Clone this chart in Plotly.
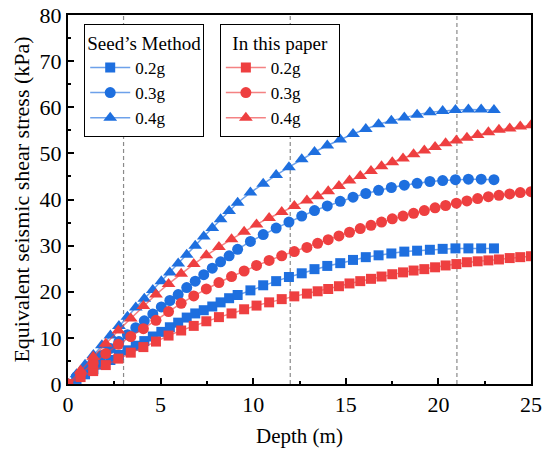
import plotly.graph_objects as go

# ---- data ----
seed_depth = [0, 0.46, 0.92, 1.37, 1.83, 2.29, 2.75, 3.21, 3.66, 4.12, 4.58, 5.04, 5.50, 5.95,
              6.41, 6.87, 7.33, 7.79, 8.24, 8.70, 9.16, 9.85, 10.54, 11.24, 11.93, 12.62, 13.31,
              14.00, 14.70, 15.39, 16.08, 16.77, 17.46, 18.16, 18.85, 19.54, 20.23, 20.92,
              21.62, 22.31, 23.00]
seed_02 = [0, 1.1, 2.1, 3.2, 4.2, 5.2, 6.3, 7.3, 8.3, 9.3, 10.3, 11.3, 12.3, 13.3,
           14.4, 15.3, 16.0, 16.8, 17.7, 18.6, 19.3, 20.3, 21.4, 22.3, 23.2, 24.0, 24.9,
           25.6, 26.2, 26.9, 27.5, 27.9, 28.3, 28.7, 28.9, 29.1, 29.3, 29.4,
           29.4, 29.4, 29.4]
seed_03 = [0, 1.6, 3.2, 4.7, 6.2, 7.7, 9.2, 10.7, 12.2, 13.7, 15.2, 16.7, 18.1, 19.4,
           20.9, 22.3, 23.7, 25.1, 26.5, 27.8, 29.2, 30.9, 32.4, 33.8, 35.1, 36.4, 37.6,
           38.6, 39.6, 40.5, 41.3, 42.0, 42.6, 43.1, 43.5, 43.9, 44.1, 44.3,
           44.4, 44.4, 44.3]
seed_04 = [0, 2.1, 4.2, 6.3, 8.4, 10.5, 12.6, 14.6, 16.6, 18.5, 20.4, 22.3, 24.2, 26.1,
           28.0, 30.0, 32.0, 33.8, 35.7, 37.5, 39.3, 41.5, 43.4, 45.3, 47.0, 48.7, 50.3,
           51.7, 53.0, 54.2, 55.3, 56.3, 57.1, 57.8, 58.4, 58.9, 59.2, 59.4,
           59.5, 59.5, 59.4]

paper_depth = [0, 0.68, 1.36, 2.04, 2.72, 3.39, 4.07, 4.75, 5.43, 6.11, 6.79, 7.47, 8.15, 8.83,
               9.51, 10.18, 10.86, 11.54, 12.22, 12.90, 13.48, 14.05, 14.63, 15.20, 15.78,
               16.36, 16.93, 17.51, 18.09, 18.66, 19.24, 19.82, 20.39, 20.97, 21.54, 22.12,
               22.70, 23.27, 23.85, 24.42, 25.00]
paper_02 = [0, 1.5, 2.8, 4.1, 5.5, 6.8, 8.0, 9.2, 10.5, 11.6, 12.6, 13.6, 14.5, 15.3,
            16.2, 17.0, 17.7, 18.4, 19.0, 19.6, 20.1, 20.6, 21.2, 21.8, 22.3,
            22.8, 23.3, 23.8, 24.2, 24.6, 24.9, 25.3, 25.7, 26.0, 26.4, 26.6,
            26.8, 27.0, 27.3, 27.5, 27.7]
paper_03 = [0, 2.2, 4.5, 6.6, 8.6, 10.3, 12.0, 13.8, 15.7, 17.5, 19.1, 20.6, 22.0, 23.3,
            24.5, 25.7, 26.8, 27.8, 28.7, 29.6, 30.5, 31.3, 32.1, 32.9, 33.7,
            34.4, 35.1, 35.8, 36.4, 37.0, 37.6, 38.2, 38.7, 39.2, 39.7, 40.2,
            40.6, 40.9, 41.2, 41.5, 41.7]
paper_04 = [0, 2.9, 5.9, 8.7, 11.6, 14.2, 16.9, 19.4, 21.7, 23.9, 26.0, 27.9, 29.7, 31.4,
            33.0, 34.6, 36.0, 37.3, 38.6, 39.8, 40.7, 41.8, 42.9, 44.1, 45.1,
            46.2, 47.2, 48.1, 48.9, 49.8, 50.6, 51.4, 52.2, 52.8, 53.4, 54.0,
            54.6, 55.1, 55.4, 55.8, 56.1]

labels = ["0.2g", "0.3g", "0.4g"]
ref_lines = [3, 12, 21]
x_ticks = [0, 5, 10, 15, 20, 25]
y_ticks = [0, 10, 20, 30, 40, 50, 60, 70, 80]

# ---- style ----
BLUE = "#1E6FDF"
BLUE_LINE = "rgba(30,111,223,0.65)"
RED = "#EE3F40"
RED_LINE = "rgba(238,63,64,0.65)"
FONT = "Liberation Serif"
symbols = ["square", "circle", "triangle-up"]
sizes = [10, 11, 12]

fig = go.Figure()
for lab, ys, sym, sz in zip(labels, [seed_02, seed_03, seed_04], symbols, sizes):
    fig.add_trace(go.Scatter(x=seed_depth, y=ys, name=lab, mode="lines+markers",
                             line=dict(color=BLUE_LINE, width=1.5),
                             marker=dict(symbol=sym, size=sz, color=BLUE),
                             legend="legend"))
for lab, ys, sym, sz in zip(labels, [paper_02, paper_03, paper_04], symbols, sizes):
    fig.add_trace(go.Scatter(x=paper_depth, y=ys, name=lab, mode="lines+markers",
                             line=dict(color=RED_LINE, width=1.5),
                             marker=dict(symbol=sym, size=sz, color=RED),
                             legend="legend2"))

for xv in ref_lines:
    fig.add_shape(type="line", xref="x", yref="paper", x0=xv, x1=xv, y0=0, y1=1,
                  line=dict(color="#8a8a8a", width=1.2, dash="4px,3px"), layer="below")

axis_common = dict(showline=True, linecolor="black", linewidth=2, mirror=True,
                   ticks="inside", ticklen=6, tickwidth=1.5, tickcolor="black",
                   showgrid=False, zeroline=False, automargin=False,
                   tickfont=dict(family=FONT, size=22, color="black"))

fig.update_xaxes(range=[0, 25], tickvals=x_ticks, ticktext=[str(v) for v in x_ticks],
                 minor=dict(ticks="inside", ticklen=3, tickwidth=1.5, dtick=2.5, tickcolor="black"),
                 title=dict(text="Depth (m)", font=dict(family=FONT, size=21, color="black"), standoff=12),
                 **axis_common)
fig.update_yaxes(range=[0, 80], tickvals=y_ticks, ticktext=[str(v) for v in y_ticks],
                 minor=dict(ticks="inside", ticklen=3, tickwidth=1.5, dtick=5, tickcolor="black"),
                 title=dict(text="Equivalent seismic shear stress (kPa)",
                            font=dict(family=FONT, size=22, color="black"), standoff=4),
                 **axis_common)

legend_common = dict(bgcolor="white", bordercolor="black", borderwidth=1,
                     font=dict(family=FONT, size=17, color="black"),
                     xanchor="left", yanchor="top", tracegroupgap=0, itemwidth=40)
fig.update_layout(
    width=549, height=452,
    margin=dict(l=68, r=18, t=15, b=68),
    paper_bgcolor="white", plot_bgcolor="white",
    font=dict(family=FONT, size=17, color="black"),
    legend=dict(x=0.035, y=0.975,
                title=dict(text="Seed’s Method", side="top center", font=dict(family=FONT, size=19)),
                **legend_common),
    legend2=dict(x=0.328, y=0.975,
                 title=dict(text="\u00a0\u00a0In this paper\u00a0\u00a0", side="top center",
                            font=dict(family=FONT, size=19)),
                 **legend_common),
)

fig.write_html("out.html")
